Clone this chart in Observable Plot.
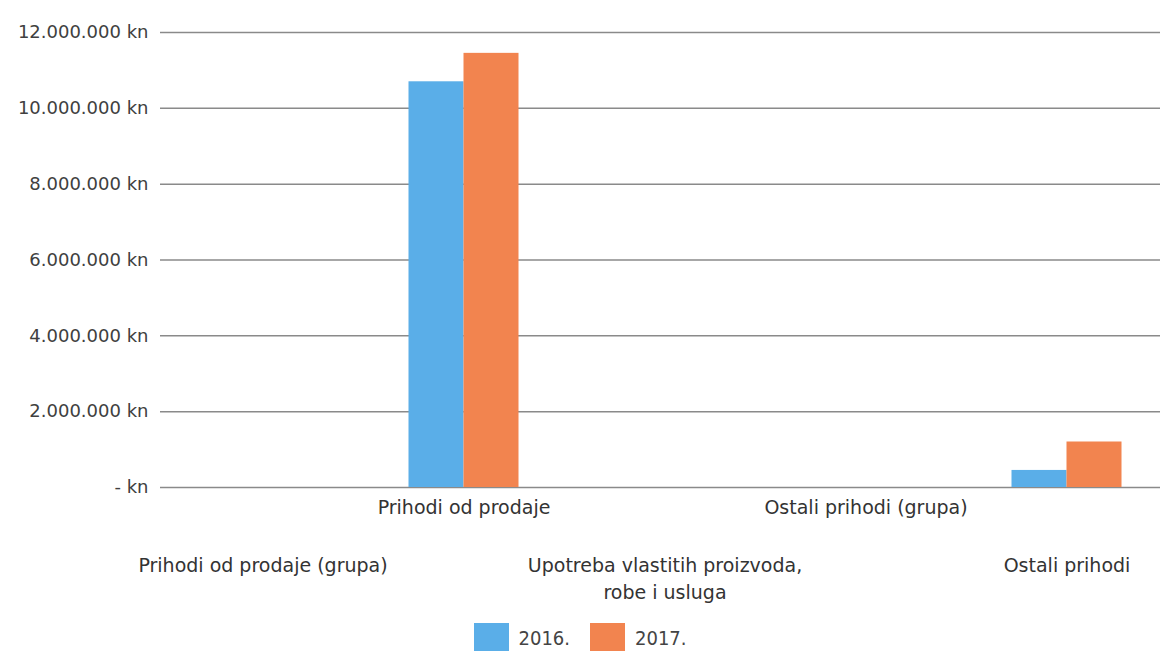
<!DOCTYPE html>
<html>
<head>
<meta charset="utf-8">
<script src="https://cdn.jsdelivr.net/npm/d3@7"></script>
<script src="https://cdn.jsdelivr.net/npm/@observablehq/plot@0.6"></script>
<style>
  body { margin: 0; background: #fff; font-family: "DejaVu Sans Condensed", "DejaVu Sans", sans-serif; }
  #legend { display: flex; justify-content: center; align-items: center; margin-left: 0px; font-size: 20px; color: #444; margin-top: 13px; }
  #legend span.sw { display: inline-block; width: 35px; height: 30px; }
  #legend .item { display: flex; align-items: center; gap: 10px; margin-right: 20px; }
  #legend .item:last-child { margin-right: 0; }
</style>
</head>
<body>
<div id="chart"></div>
<div id="legend"></div>
<script>
const categories = ["Prihodi od prodaje (grupa)", "Prihodi od prodaje", "Upotreba vlastitih proizvoda,\nrobe i usluga", "Ostali prihodi (grupa)", "Ostali prihodi"];
const labelRow = [2, 1, 2, 1, 2];
const years = ["2016.", "2017."];
const values2016 = [0, 10700000, 0, 0, 450000];
const values2017 = [0, 11450000, 0, 0, 1200000];
const yTicks = [0, 2000000, 4000000, 6000000, 8000000, 10000000, 12000000];
const colors = ["#5aaee8", "#f2844f"];

const d16 = categories.map((c, i) => ({cat: c, value: values2016[i]}));
const d17 = categories.map((c, i) => ({cat: c, value: values2017[i]}));
const labels = categories.map((c, i) => ({cat: c, row: labelRow[i]}));

const fmt = d => d === 0 ? "- kn" : d3.format(",")(d).replace(/,/g, ".") + " kn";

const chart = Plot.plot({
  width: 1160,
  height: 610,
  marginLeft: 160,
  marginRight: 0,
  marginTop: 32,
  marginBottom: 123,
  style: {fontFamily: "'DejaVu Sans', sans-serif", fontSize: "18px", color: "#404040"},
  x: {domain: categories, range: [161, 1168], paddingInner: 0.725, paddingOuter: 0.3625, axis: null},
  y: {domain: [0, 12000000], ticks: yTicks, tickFormat: fmt, tickSize: 0, tickPadding: 12, label: null},
  marks: [
    Plot.ruleY(yTicks, {stroke: "#8a8a8a", strokeWidth: 1.5}),
    Plot.barY(d16, {x: "cat", y: "value", fill: colors[0], dx: -27.5}),
    Plot.barY(d17, {x: "cat", y: "value", fill: colors[1], dx: 27.5}),
    Plot.text(labels.filter(d => d.row === 1), {x: "cat", text: "cat", frameAnchor: "bottom", lineAnchor: "top", dy: 13, fontSize: 19, fill: "#333"}),
    Plot.text(labels.filter(d => d.row === 2), {x: "cat", text: "cat", frameAnchor: "bottom", lineAnchor: "top", dy: 66, fontSize: 19, lineHeight: 1.4, fill: "#333"})
  ]
});
document.getElementById("chart").appendChild(chart);

const legend = document.getElementById("legend");
years.forEach((y, i) => {
  const item = document.createElement("div");
  item.className = "item";
  item.innerHTML = `<span class="sw" style="background:${colors[i]}"></span><span>${y}</span>`;
  legend.appendChild(item);
});
</script>
</body>
</html>
